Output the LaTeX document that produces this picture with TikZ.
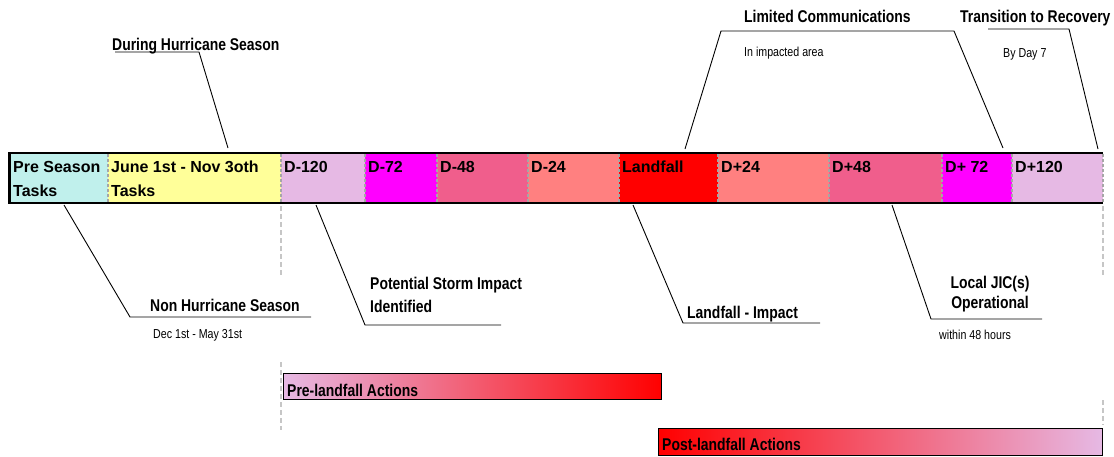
\documentclass[tikz,border=0pt]{standalone}
\usepackage{fontspec}
\setmainfont{Liberation Sans}
\newfontfamily\narrowfont[FakeStretch=0.82]{Liberation Sans}
\usetikzlibrary{positioning}
\definecolor{preseason}{RGB}{192,240,236}
\definecolor{season}{RGB}{255,255,153}
\definecolor{lilac}{RGB}{230,185,228}
\definecolor{hot}{RGB}{255,0,255}
\definecolor{rose}{RGB}{240,94,140}
\definecolor{salmon}{RGB}{255,128,128}
\definecolor{storm}{RGB}{255,0,0}
\definecolor{midpink}{RGB}{242,134,164}
\tikzset{
  cell/.style={anchor=north west, inner sep=0pt, align=left,
    font=\fontsize{16}{24}\selectfont\bfseries},
  headline/.style={anchor=base west, inner sep=0pt,
    font=\narrowfont\fontsize{17}{22}\selectfont\bfseries},
  note/.style={anchor=base west, inner sep=0pt,
    font=\narrowfont\fontsize{13}{15}\selectfont},
  leader/.style={line width=0.9pt},
  sep/.style={gray!70, dash pattern=on 3pt off 2pt, line width=1.3pt},
  guide/.style={gray!45, dash pattern=on 5pt off 3pt, line width=1.2pt},
  actionbox/.style={draw, line width=0.9pt, inner sep=0pt, anchor=north west}
}
\begin{document}
\begin{tikzpicture}[x=1pt, y=-1pt]
  \useasboundingbox (0,0) rectangle (1114,456);

  % timeline cells
  \foreach \xa/\xb/\col/\txt [count=\i] in {10/108/preseason/{Pre Season\\Tasks},
      108/281/season/{June 1st - Nov 3oth\\Tasks}, 281/365/lilac/D-120,
      365/437/hot/D-72, 437/528/rose/D-48, 528/619/salmon/D-24,
      619/718/storm/Landfall, 718/829/salmon/D+24, 829/942/rose/D+48,
      942/1012/hot/{D+ 72}, 1012/1103/lilac/D+120}
  {
    \fill[\col] (\xa,152) rectangle (\xb,204);
    \node[cell] (cell\i) at (\xa+3,160.5) {\rule{0pt}{11.8pt}\txt};
  }
  \foreach \x in {108,281,365,437,528,619,718,829,942,1012,1103}
    \draw[sep] (\x,154) -- (\x,202);
  \draw[line width=2.6pt] (1103,153) -- (9.5,153) -- (9.5,203) -- (1103,203);

  % guides
  \draw[guide] (281,206) -- (281,277);
  \draw[guide] (281,362) -- (281,430);
  \draw[guide] (1103,206) -- (1103,275);
  \draw[guide] (1103,400) -- (1103,425);

  % labels above
  \node[headline] (during) at (112,50) {During Hurricane Season};
  \coordinate (duringA) at (115,52);
  \coordinate (duringB) at (199,52);
  \coordinate (duringC) at (228,148);
  \draw[leader] (duringA) -- (duringB) -- (duringC);

  \node[headline] (comms) at (744,22) {Limited Communications};
  \node[note] (commsnote) at (744,56) {In impacted area};
  \coordinate (commsA) at (685,149);
  \coordinate (commsB) at (721,31);
  \coordinate (commsC) at (954,31);
  \coordinate (commsD) at (1003,148);
  \draw[leader] (commsA) -- (commsB) -- (commsC) -- (commsD);

  \node[headline] (recovery) at (960,22) {Transition to Recovery};
  \node[note] (recoverynote) at (1003,57) {By Day 7};
  \coordinate (recoveryA) at (988,29);
  \coordinate (recoveryB) at (1069,29);
  \coordinate (recoveryC) at (1098,149);
  \draw[leader] (recoveryA) -- (recoveryB) -- (recoveryC);

  % labels below
  \node[headline] (offseason) at (150,311) {Non Hurricane Season};
  \node[note] (offseasonnote) at (153,338) {Dec 1st - May 31st};
  \coordinate (offseasonA) at (64,205);
  \coordinate (offseasonB) at (130,317);
  \coordinate (offseasonC) at (311,317);
  \draw[leader] (offseasonA) -- (offseasonB) -- (offseasonC);

  \node[headline, anchor=north west, align=left,
    font=\narrowfont\fontsize{17}{22.7}\selectfont\bfseries] (impact) at (370,277)
    {Potential Storm Impact\\Identified};
  \coordinate (impactA) at (316,205);
  \coordinate (impactB) at (365,325);
  \coordinate (impactC) at (501,325);
  \draw[leader] (impactA) -- (impactB) -- (impactC);

  \node[headline] (landfall) at (687,318) {Landfall - Impact};
  \coordinate (landfallA) at (633,205);
  \coordinate (landfallB) at (683,323);
  \coordinate (landfallC) at (820,323);
  \draw[leader] (landfallA) -- (landfallB) -- (landfallC);

  \node[headline, anchor=north, align=center,
    font=\narrowfont\fontsize{17}{20}\selectfont\bfseries] (jic) at (990,276)
    {Local JIC(s)\\Operational};
  \node[note] (jicnote) at (939,339) {within 48 hours};
  \coordinate (jicA) at (892,205);
  \coordinate (jicB) at (931,319);
  \coordinate (jicC) at (1042,319);
  \draw[leader] (jicA) -- (jicB) -- (jicC);

  % action bars
  \node[actionbox, left color=lilac, middle color=midpink, right color=storm,
    minimum width=378pt, minimum height=26pt] (prebox) at (283,373) {};
  \node[headline] (pretext) at ([xshift=4pt, yshift=3pt]prebox.south west) {Pre-landfall Actions};
  \node[actionbox, left color=storm, middle color=midpink, right color=lilac,
    minimum width=444pt, minimum height=27pt] (postbox) at (658,428) {};
  \node[headline] (posttext) at ([xshift=4pt, yshift=5pt]postbox.south west) {Post-landfall Actions};
\end{tikzpicture}
\end{document}
